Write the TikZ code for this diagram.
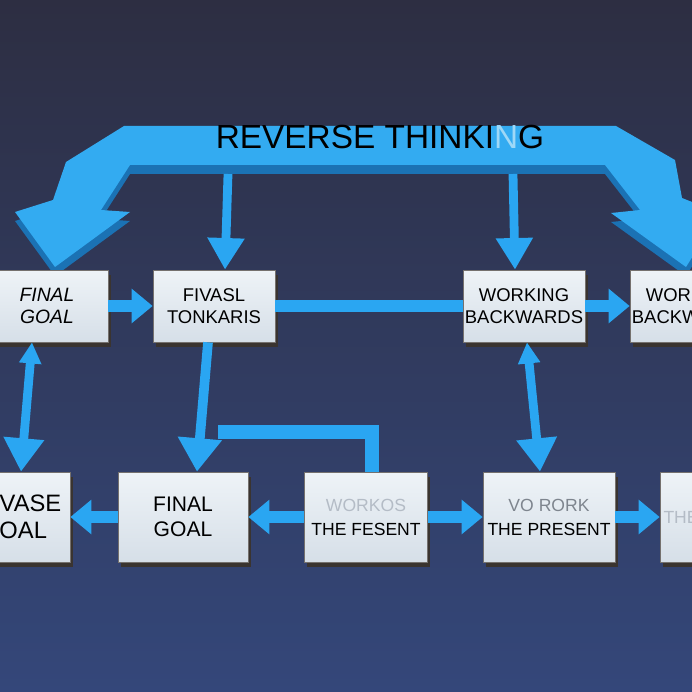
\documentclass[tikz,border=0pt]{standalone}
\usepackage{fontspec}
\setmainfont{Liberation Sans}
\usetikzlibrary{arrows.meta,shadows}
\definecolor{bgtop}{HTML}{2D2E42}
\definecolor{bgbot}{HTML}{34477A}
\definecolor{arrowblue}{HTML}{2AA6F2}
\definecolor{bannertop}{HTML}{33ABF1}
\definecolor{bannerfront}{HTML}{1B72B4}
\definecolor{boxedge}{HTML}{3A3430}
\definecolor{boxtop}{HTML}{EEF3F7}
\definecolor{boxbot}{HTML}{D6DFE8}
\definecolor{fadetext}{HTML}{B4BCC6}
\definecolor{greytext}{HTML}{7E858E}
\definecolor{paleN}{HTML}{9ED8F7}
\tikzset{
  card/.style={top color=boxtop, bottom color=boxbot, draw=boxedge!70, line width=0.4pt,
    drop shadow={shadow xshift=1.6pt, shadow yshift=-3pt, fill=boxedge, opacity=1},
    minimum width=2.44cm, minimum height=1.44cm, align=center, inner sep=0pt,
    font=\fontsize{10.5}{12.5}\selectfont},
  bigcard/.style={card, minimum width=2.6cm, minimum height=1.8cm,
    font=\fontsize{12}{14}\selectfont},
  fatarrow/.style={draw=arrowblue, line width=6.5pt, -{Triangle[length=12pt,width=19pt]}},
  barline/.style={draw=arrowblue, line width=7pt},
  legarrow/.style={draw=arrowblue, line width=5pt,
    {Triangle[length=12pt,width=12pt]}-{Triangle[length=19pt,width=22pt]}},
  sinkarrow/.style={draw=arrowblue, line width=5.5pt, -{Triangle[length=19pt,width=24pt]}},
  rayarrow/.style={draw=arrowblue, line width=5pt, -{Triangle[length=18pt,width=20pt]}}
}
\begin{document}
\begin{tikzpicture}[x=0.02cm,y=-0.02cm]
\useasboundingbox (0,0) rectangle (692,692);
\clip (0,0) rectangle (692,692);
\fill[top color=bgtop, bottom color=bgbot] (0,0) rectangle (692,692);
%		banner
\foreach \c/\s in {bannerfront/9, bannertop/0}
  \fill[\c, shift={(0,\s)}] (124,126) -- (616,126) -- (675,160) -- (682,198) -- (720,213)
    -- (686,267) -- (611,213) -- (640,210) -- (605,165) -- (130,165) -- (101,210)
    -- (130,212) -- (55,267) -- (15,212) -- (53,200) -- (66,162) -- cycle;
\node (title) at (380,137) {\fontsize{19}{21}\selectfont REVERSE THINKI{\color{paleN}N}G};
\coordinate (r1) at (228,174);
\coordinate (r2) at (513,174);
%		top
\node[card, font=\fontsize{11}{13}\selectfont\itshape] (00) at (47,306) {FINAL\\GOAL};
\node[card] (01) at (214,306) {FIVASL\\TONKARIS};
\node[card] (02) at (524,306) {WORKING\\BACKWARDS};
\node[card] (03) at (691,306) {WORKING\\BACKWARDS};
%		bottom
\node[bigcard, minimum width=2.24cm, font=\fontsize{13.5}{15}\selectfont] (10) at (14,517) {REVASE\\GOAL};
\node[bigcard] (11) at (183,517) {FINAL\\GOAL};
\node[bigcard, minimum width=2.46cm, font=\fontsize{10}{13.6}\selectfont] (12) at (366,517)
  {\textcolor{fadetext}{WORKOS}\\THE FESENT};
\node[bigcard, minimum width=2.64cm, font=\fontsize{10}{13.6}\selectfont] (13) at (549,517)
  {\textcolor{greytext}{VO RORK}\\THE PRESENT};
\node[bigcard, font=\fontsize{10}{13.6}\selectfont] (14) at (725,517)
  {\textcolor{fadetext}{THE PRESENT}};
%		arrows
\draw[rayarrow] (r1) -- ([xshift=0.22cm]01.north);
\draw[rayarrow] (r2) -- ([xshift=-0.18cm]02.north);
\draw[fatarrow] (00) -- (01);
\draw[barline] (01) -- (02);
\draw[fatarrow] (02) -- (03);
\draw[fatarrow] (11) -- (10);
\draw[fatarrow] (12) -- (11);
\draw[fatarrow] (12) -- (13);
\draw[fatarrow] (13) -- (14);
%		legs
\draw[legarrow] ([xshift=-0.3cm]00.south) -- ([xshift=0.14cm]10.north);
\draw[sinkarrow] ([xshift=-0.12cm]01.south) -- ([xshift=0.28cm]11.north);
\coordinate (k) at (218,432);
\draw[barline, line width=8pt] (k) -| ([xshift=0.12cm]12.north);
\draw[legarrow] ([xshift=0.06cm]02.south) -- ([xshift=-0.18cm]13.north);
\end{tikzpicture}
\end{document}
